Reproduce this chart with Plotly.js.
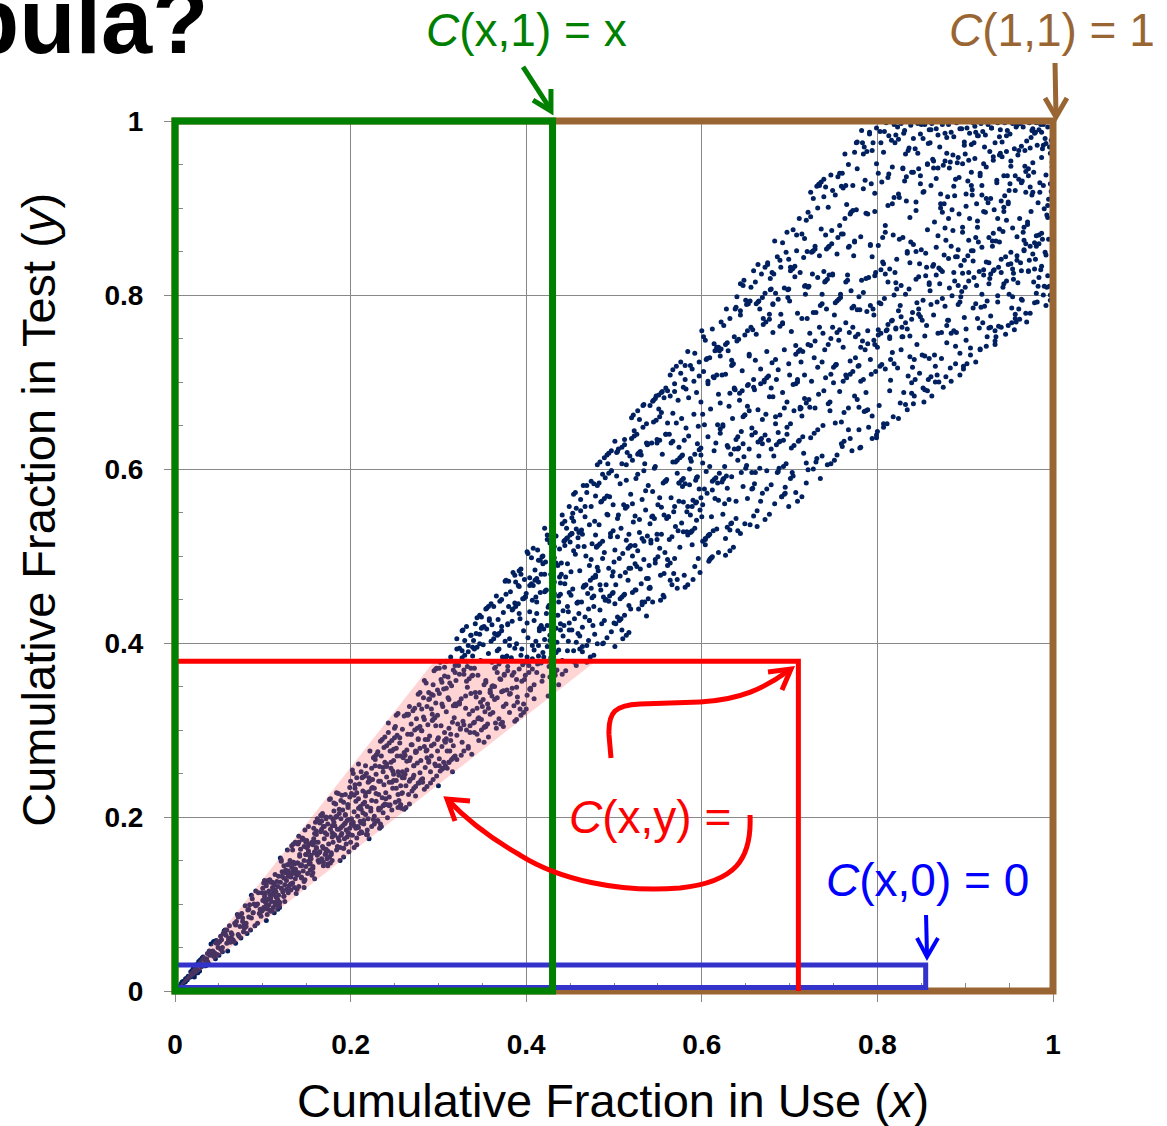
<!DOCTYPE html>
<html>
<head>
<meta charset="utf-8">
<script src="https://cdn.plot.ly/plotly-3.0.1.min.js"></script>
<style>html,body{margin:0;padding:0;background:#fff;}#chart{width:1167px;height:1126px;}</style>
</head>
<body>
<div id="chart"></div>
<script>
// ---- Data: sample of (use, test) cumulative fractions ----
const useFraction = [
.001,.001,.001,.002,.003,.004,.004,.005,.006,.007,.007,.008,.009,.009,.010,.011,.012,.012,.013,.014,.014,.015,.016,.017,.017,.018,.019,.019,
.020,.021,.021,.022,.023,.024,.024,.025,.026,.027,.027,.028,.029,.029,.030,.031,.032,.032,.033,.034,.034,.035,.036,.037,.037,.038,.039,.039,
.040,.041,.041,.042,.043,.044,.044,.045,.046,.047,.047,.048,.049,.049,.050,.051,.052,.052,.053,.054,.054,.055,.056,.057,.057,.058,.059,.059,
.060,.061,.061,.062,.063,.064,.064,.065,.066,.067,.067,.068,.069,.069,.070,.071,.072,.072,.073,.074,.074,.075,.076,.077,.077,.078,.079,.079,
.080,.081,.081,.082,.083,.084,.084,.085,.086,.087,.087,.088,.089,.089,.090,.091,.092,.092,.093,.094,.094,.095,.096,.097,.097,.098,.099,.099,
.100,.101,.101,.102,.103,.104,.104,.105,.106,.107,.107,.108,.109,.109,.110,.111,.112,.112,.113,.114,.114,.115,.116,.117,.117,.118,.119,.119,
.120,.121,.121,.122,.123,.124,.124,.125,.126,.127,.127,.128,.129,.129,.130,.131,.132,.132,.133,.134,.134,.135,.136,.137,.137,.138,.139,.139,
.140,.141,.141,.142,.143,.144,.144,.145,.146,.147,.147,.148,.149,.149,.150,.151,.152,.152,.153,.154,.154,.155,.156,.157,.157,.158,.159,.159,
.160,.161,.161,.162,.163,.164,.164,.165,.166,.167,.167,.168,.169,.169,.170,.171,.172,.172,.173,.174,.174,.175,.176,.177,.177,.178,.179,.179,
.180,.181,.181,.182,.183,.184,.184,.185,.186,.187,.187,.188,.189,.189,.190,.191,.192,.192,.193,.194,.194,.195,.196,.197,.197,.198,.199,.199,
.200,.201,.201,.202,.203,.204,.204,.205,.206,.207,.207,.208,.209,.209,.210,.211,.212,.212,.213,.214,.214,.215,.216,.217,.217,.218,.219,.219,
.220,.221,.221,.222,.223,.224,.224,.225,.226,.227,.227,.228,.229,.229,.230,.231,.232,.232,.233,.234,.234,.235,.236,.237,.237,.238,.239,.239,
.240,.241,.241,.242,.243,.244,.244,.245,.246,.247,.247,.248,.249,.249,.250,.251,.252,.252,.253,.254,.254,.255,.256,.257,.257,.258,.259,.259,
.260,.261,.261,.262,.263,.264,.264,.265,.266,.267,.267,.268,.269,.269,.270,.271,.272,.272,.273,.274,.274,.275,.276,.277,.277,.278,.279,.279,
.280,.281,.281,.282,.283,.284,.284,.285,.286,.287,.287,.288,.289,.289,.290,.291,.292,.292,.293,.294,.294,.295,.296,.297,.297,.298,.299,.299,
.300,.301,.301,.302,.303,.304,.304,.305,.306,.307,.307,.308,.309,.309,.310,.311,.312,.312,.313,.314,.314,.315,.316,.317,.317,.318,.319,.319,
.320,.321,.321,.322,.323,.324,.324,.325,.326,.327,.327,.328,.329,.329,.330,.331,.332,.332,.333,.334,.334,.335,.336,.337,.337,.338,.339,.339,
.340,.341,.341,.342,.343,.344,.344,.345,.346,.347,.347,.348,.349,.349,.350,.351,.352,.352,.353,.354,.354,.355,.356,.357,.357,.358,.359,.359,
.360,.361,.361,.362,.363,.364,.364,.365,.366,.367,.367,.368,.369,.369,.370,.371,.372,.372,.373,.374,.374,.375,.376,.377,.377,.378,.379,.379,
.380,.381,.381,.382,.383,.384,.384,.385,.386,.387,.387,.388,.389,.389,.390,.391,.392,.392,.393,.394,.394,.395,.396,.397,.397,.398,.399,.399,
.400,.401,.401,.402,.403,.404,.404,.405,.406,.407,.407,.408,.409,.409,.410,.411,.412,.412,.413,.414,.414,.415,.416,.417,.417,.418,.419,.419,
.420,.421,.421,.422,.423,.424,.424,.425,.426,.427,.427,.428,.429,.429,.430,.431,.432,.432,.433,.434,.434,.435,.436,.437,.437,.438,.439,.439,
.440,.441,.441,.442,.443,.444,.444,.445,.446,.447,.447,.448,.449,.449,.450,.451,.452,.452,.453,.454,.454,.455,.456,.457,.457,.458,.459,.459,
.460,.461,.461,.462,.463,.464,.464,.465,.466,.467,.467,.468,.469,.469,.470,.471,.472,.472,.473,.474,.474,.475,.476,.477,.477,.478,.479,.479,
.480,.481,.481,.482,.483,.484,.484,.485,.486,.487,.487,.488,.489,.489,.490,.491,.492,.492,.493,.494,.494,.495,.496,.497,.497,.498,.499,.499,
.500,.501,.501,.502,.503,.504,.504,.505,.506,.507,.507,.508,.509,.509,.510,.511,.512,.512,.513,.514,.514,.515,.516,.517,.517,.518,.519,.519,
.520,.521,.521,.522,.523,.524,.524,.525,.526,.527,.527,.528,.529,.529,.530,.531,.532,.532,.533,.534,.534,.535,.536,.537,.537,.538,.539,.539,
.540,.541,.541,.542,.543,.544,.544,.545,.546,.547,.547,.548,.549,.549,.550,.551,.552,.552,.553,.554,.554,.555,.556,.557,.557,.558,.559,.559,
.560,.561,.561,.562,.563,.564,.564,.565,.566,.567,.567,.568,.569,.569,.570,.571,.572,.572,.573,.574,.574,.575,.576,.577,.577,.578,.579,.579,
.580,.581,.581,.582,.583,.584,.584,.585,.586,.587,.587,.588,.589,.589,.590,.591,.592,.592,.593,.594,.594,.595,.596,.597,.597,.598,.599,.599,
.600,.601,.601,.602,.603,.604,.604,.605,.606,.607,.607,.608,.609,.609,.610,.611,.612,.612,.613,.614,.614,.615,.616,.617,.617,.618,.619,.619,
.620,.621,.621,.622,.623,.624,.624,.625,.626,.627,.627,.628,.629,.629,.630,.631,.632,.632,.633,.634,.634,.635,.636,.637,.637,.638,.639,.639,
.640,.641,.641,.642,.643,.644,.644,.645,.646,.647,.647,.648,.649,.649,.650,.651,.652,.652,.653,.654,.654,.655,.656,.657,.657,.658,.659,.659,
.660,.661,.661,.662,.663,.664,.664,.665,.666,.667,.667,.668,.669,.669,.670,.671,.672,.672,.673,.674,.674,.675,.676,.677,.677,.678,.679,.679,
.680,.681,.681,.682,.683,.684,.684,.685,.686,.687,.687,.688,.689,.689,.690,.691,.692,.692,.693,.694,.694,.695,.696,.697,.697,.698,.699,.699,
.700,.701,.701,.702,.703,.704,.704,.705,.706,.707,.707,.708,.709,.709,.710,.711,.712,.712,.713,.714,.714,.715,.716,.717,.717,.718,.719,.719,
.720,.721,.721,.722,.723,.724,.724,.725,.726,.727,.727,.728,.729,.729,.730,.731,.732,.732,.733,.734,.734,.735,.736,.737,.737,.738,.739,.739,
.740,.741,.741,.742,.743,.744,.744,.745,.746,.747,.747,.748,.749,.749,.750,.751,.752,.752,.753,.754,.754,.755,.756,.757,.757,.758,.759,.759,
.760,.761,.761,.762,.763,.764,.764,.765,.766,.767,.767,.768,.769,.769,.770,.771,.772,.772,.773,.774,.774,.775,.776,.777,.777,.778,.779,.779,
.780,.781,.781,.782,.783,.784,.784,.785,.786,.787,.787,.788,.789,.789,.790,.791,.792,.792,.793,.794,.794,.795,.796,.797,.797,.798,.799,.799,
.800,.801,.801,.802,.803,.804,.804,.805,.806,.807,.807,.808,.809,.809,.810,.811,.812,.812,.813,.814,.814,.815,.816,.817,.817,.818,.819,.819,
.820,.821,.821,.822,.823,.824,.824,.825,.826,.827,.827,.828,.829,.829,.830,.831,.832,.832,.833,.834,.834,.835,.836,.837,.837,.838,.839,.839,
.840,.841,.841,.842,.843,.844,.844,.845,.846,.847,.847,.848,.849,.849,.850,.851,.852,.852,.853,.854,.854,.855,.856,.857,.857,.858,.859,.859,
.860,.861,.861,.862,.863,.864,.864,.865,.866,.867,.867,.868,.869,.869,.870,.871,.872,.872,.873,.874,.874,.875,.876,.877,.877,.878,.879,.879,
.880,.881,.881,.882,.883,.884,.884,.885,.886,.887,.887,.888,.889,.889,.890,.891,.892,.892,.893,.894,.894,.895,.896,.897,.897,.898,.899,.899,
.900,.901,.901,.902,.903,.904,.904,.905,.906,.907,.907,.908,.909,.909,.910,.911,.912,.912,.913,.914,.914,.915,.916,.917,.917,.918,.919,.919,
.920,.921,.921,.922,.923,.924,.924,.925,.926,.927,.927,.928,.929,.929,.930,.931,.932,.932,.933,.934,.934,.935,.936,.937,.937,.938,.939,.939,
.940,.941,.941,.942,.943,.944,.944,.945,.946,.947,.947,.948,.949,.949,.950,.951,.952,.952,.953,.954,.954,.955,.956,.957,.957,.958,.959,.959,
.960,.961,.961,.962,.963,.964,.964,.965,.966,.967,.967,.968,.969,.969,.970,.971,.972,.972,.973,.974,.974,.975,.976,.977,.977,.978,.979,.979,
.980,.981,.981,.982,.983,.984,.984,.985,.986,.987,.987,.988,.989,.989,.990,.991,.992,.992,.993,.994,.994,.995,.996,.997,.997,.998,.999,.999,
.119,.100,.101,.101,.102,.103,.104,.104,.105,.106,.107,.107,.108,.109,.109,.110,.111,.112,.112,.113,.114,.114,.115,.116,.117,.117,.118,.119,
.127,.128,.129,.129,.130,.131,.132,.132,.133,.134,.134,.135,.136,.137,.137,.138,.139,.139,.120,.121,.121,.122,.123,.124,.124,.125,.126,.127,
.155,.156,.157,.157,.158,.159,.159,.140,.141,.141,.142,.143,.144,.144,.145,.146,.147,.147,.148,.149,.149,.150,.151,.152,.152,.153,.154,.154,
.163,.164,.164,.165,.166,.167,.167,.168,.169,.169,.170,.171,.172,.172,.173,.174,.174,.175,.176,.177,.177,.178,.179,.179,.160,.161,.161,.162,
.191,.192,.192,.193,.194,.194,.195,.196,.197,.197,.198,.199,.199,.180,.181,.181,.182,.183,.184,.184,.185,.186,.187,.187,.188,.189,.189,.190,
.219,.219,.200,.201,.201,.202,.203,.204,.204,.205,.206,.207,.207,.208,.209,.209,.210,.211,.212,.212,.213,.214,.214,.215,.216,.217,.217,.218,
.227,.227,.228,.229,.229,.230,.231,.232,.232,.233,.234,.234,.235,.236,.237,.237,.238,.239,.239,.220,.221,.221,.222,.223,.224,.224,.225,.226,
.254,.255,.256,.257,.257,.258,.259,.259,.240,.241,.241,.242,.243,.244,.244,.245,.246,.247,.247,.248,.249,.249,.250,.251,.252,.252,.253,.254,
.262,.263,.264,.264,.265,.266,.267,.267,.268,.269,.269,.270,.271,.272,.272,.273,.274,.274,.275,.276,.277,.277,.278,.279,.279,.260,.261,.261,
.290,.291,.292,.292,.293,.294,.294,.295,.296,.297,.297,.298,.299,.299,.280,.281,.281,.282,.283,.284,.284,.285,.286,.287,.287,.288,.289,.289,
.318,.319,.319,.300,.301,.301,.302,.303,.304,.304,.305,.306,.307,.307,.308,.309,.309,.310,.311,.312,.312,.313,.314,.314,.315,.316,.317,.317,
.326,.327,.327,.328,.329,.329,.330,.331,.332,.332,.333,.334,.334,.335,.336,.337,.337,.338,.339,.339,.320,.321,.321,.322,.323,.324,.324,.325,
.354,.354,.355,.356,.357,.357,.358,.359,.359,.340,.341,.341,.342,.343,.344,.344,.345,.346,.347,.347,.348,.349,.349,.350,.351,.352,.352,.353,
.361,.362,.363,.364,.364,.365,.366,.367,.367,.368,.369,.369,.370,.371,.372,.372,.373,.374,.374,.375,.376,.377,.377,.378,.379,.379,.360,.361,
.389,.390,.391,.392,.392,.393,.394,.394,.395,.396,.397,.397,.398,.399,.399,.380,.381,.381,.382,.383,.384,.384,.385,.386,.387,.387,.388,.389,
.417,.418,.419,.419,.400,.401,.401,.402,.403,.404,.404,.405,.406,.407,.407,.408,.409,.409,.410,.411,.412,.412,.413,.414,.414,.415,.416,.417,
.425,.426,.427,.427,.428,.429,.429,.430,.431,.432,.432,.433,.434,.434,.435,.436,.437,.437,.438,.439,.439,.420,.421,.421,.422,.423,.424,.424,
.453,.454,.454,.455,.456,.457,.457,.458,.459,.459,.440,.441,.441,.442,.443,.444,.444,.445,.446,.447,.447,.448,.449,.449,.450,.451,.452,.452,
.461,.461,.462,.463,.464,.464,.465,.466,.467,.467,.468,.469,.469,.470,.471,.472,.472,.473,.474,.474,.475,.476,.477,.477,.478,.479,.479,.460,
.489,.489,.490,.491,.492,.492,.493,.494,.494,.495,.496,.497,.497,.498,.499,.499,.480,.481,.481,.482,.483,.484,.484,.485,.486,.487,.487,.488,
.517,.517,.518,.519,.519,.500,.501,.501,.502,.503,.504,.504,.505,.506,.507,.507,.508,.509,.509,.510,.511,.512,.512,.513,.514,.514,.515,.516,
.524,.525,.526,.527,.527,.528,.529,.529,.530,.531,.532,.532,.533,.534,.534,.535,.536,.537,.537,.538,.539,.539,.520,.521,.521,.522,.523,.524,
.552,.553,.554,.554,.555,.556,.557,.557,.558,.559,.559,.540,.541,.541,.542,.543,.544,.544,.545,.546,.547,.547,.548,.549,.549,.550,.551,.552,
.560,.561,.561,.562,.563,.564,.564,.565,.566,.567,.567,.568,.569,.569,.570,.571,.572,.572,.573,.574,.574,.575,.576,.577,.577,.578,.579,.579,
.588,.589,.589,.590,.591,.592,.592,.593,.594,.594,.595,.596,.597,.597,.598,.599,.599,.580,.581,.581,.582,.583,.584,.584,.585,.586,.587,.587,
.616,.617,.617,.618,.619,.619,.600,.601,.601,.602,.603,.604,.604,.605,.606,.607,.607,.608,.609,.609,.610,.611,.612,.612,.613,.614,.614,.615,
.624,.624,.625,.626,.627,.627,.628,.629,.629,.630,.631,.632,.632,.633,.634,.634,.635,.636,.637,.637,.638,.639,.639,.620,.621,.621,.622,.623,
.652,.652,.653,.654,.654,.655,.656,.657,.657,.658,.659,.659,.640,.641,.641,.642,.643,.644,.644,.645,.646,.647,.647,.648,.649,.649,.650,.651,
.679,.660,.661,.661,.662,.663,.664,.664,.665,.666,.667,.667,.668,.669,.669,.670,.671,.672,.672,.673,.674,.674,.675,.676,.677,.677,.678,.679,
.687,.688,.689,.689,.690,.691,.692,.692,.693,.694,.694,.695,.696,.697,.697,.698,.699,.699,.680,.681,.681,.682,.683,.684,.684,.685,.686,.687,
.715,.716,.717,.717,.718,.719,.719,.700,.701,.701,.702,.703,.704,.704,.705,.706,.707,.707,.708,.709,.709,.710,.711,.712,.712,.713,.714,.714,
.723,.724,.724,.725,.726,.727,.727,.728,.729,.729,.730,.731,.732,.732,.733,.734,.734,.735,.736,.737,.737,.738,.739,.739,.720,.721,.721,.722,
.751,.752,.752,.753,.754,.754,.755,.756,.757,.757,.758,.759,.759,.740,.741,.741,.742,.743,.744,.744,.745,.746,.747,.747,.748,.749,.749,.750,
.779,.779,.760,.761,.761,.762,.763,.764,.764,.765,.766,.767,.767,.768,.769,.769,.770,.771,.772,.772,.773,.774,.774,.775,.776,.777,.777,.778,
.787,.787,.788,.789,.789,.790,.791,.792,.792,.793,.794,.794,.795,.796,.797,.797,.798,.799,.799,.780,.781,.781,.782,.783,.784,.784,.785,.786,
.814,.815,.816,.817,.817,.818,.819,.819,.800,.801,.801,.802,.803,.804,.804,.805,.806,.807,.807,.808,.809,.809,.810,.811,.812,.812,.813,.814,
.822,.823,.824,.824,.825,.826,.827,.827,.828,.829,.829,.830,.831,.832,.832,.833,.834,.834,.835,.836,.837,.837,.838,.839,.839,.820,.821,.821,
.850,.851,.852,.852,.853,.854,.854,.855,.856,.857,.857,.858,.859,.859,.840,.841,.841,.842,.843,.844,.844,.845,.846,.847,.847,.848,.849,.849,
.878,.879,.879,.860,.861,.861,.862,.863,.864,.864,.865,.866,.867,.867,.868,.869,.869,.870,.871,.872,.872,.873,.874,.874,.875,.876,.877,.877,
.886,.887,.887,.888,.889,.889,.890,.891,.892,.892,.893,.894,.894,.895,.896,.897,.897,.898,.899,.899,.880,.881,.881,.882,.883,.884,.884,.885,
.914,.914,.915,.916,.917,.917,.918,.919,.919,.900,.901,.901,.902,.903,.904,.904,.905,.906,.907,.907,.908,.909,.909,.910,.911,.912,.912,.913,
.921,.922,.923,.924,.924,.925,.926,.927,.927,.928,.929,.929,.930,.931,.932,.932,.933,.934,.934,.935,.936,.937,.937,.938,.939,.939,.920,.921,
.949,.950,.951,.952,.952,.953,.954,.954,.955,.956,.957,.957,.958,.959,.959,.940,.941,.941,.942,.943,.944,.944,.945,.946,.947,.947,.948,.949,
.977,.978,.979,.979,.960,.961,.961,.962,.963,.964,.964,.965,.966,.967,.967,.968,.969,.969,.970,.971,.972,.972,.973,.974,.974,.975,.976,.977,
.985,.986,.987,.987,.988,.989,.989,.990,.991,.992,.992,.993,.994,.994,.995,.996,.997,.997,.998,.999,.999,.980,.981,.981,.982,.983,.984,.984
];
const testFraction = [
.001,.001,.001,.002,.004,.004,.004,.005,.006,.007,.008,.010,.010,.011,.010,.010,.011,.014,.013,.015,.013,.017,.016,.016,.016,.022,.018,.017,
.024,.028,.022,.016,.020,.030,.030,.025,.021,.034,.031,.023,.032,.036,.028,.038,.039,.030,.037,.035,.029,.029,.037,.043,.034,.032,.046,.043,
.041,.054,.042,.043,.046,.057,.040,.044,.037,.055,.058,.042,.055,.050,.041,.057,.048,.063,.059,.050,.045,.066,.069,.070,.068,.064,.055,.070,
.046,.058,.061,.075,.056,.067,.061,.065,.059,.057,.057,.078,.055,.076,.080,.088,.085,.065,.063,.074,.087,.061,.089,.084,.080,.068,.076,.072,
.098,.074,.078,.066,.093,.094,.085,.099,.070,.110,.084,.106,.090,.090,.100,.075,.115,.098,.099,.078,.100,.113,.089,.090,.094,.086,.113,.092,
.104,.094,.105,.127,.102,.081,.124,.088,.094,.127,.106,.128,.092,.092,.093,.125,.111,.116,.090,.102,.134,.114,.099,.094,.105,.132,.096,.102,
.153,.118,.149,.132,.114,.109,.109,.103,.136,.137,.137,.162,.145,.132,.133,.147,.123,.123,.167,.137,.162,.169,.146,.140,.171,.135,.117,.136,
.169,.120,.178,.157,.144,.145,.130,.174,.175,.126,.119,.185,.171,.157,.165,.166,.160,.189,.146,.147,.155,.156,.171,.136,.143,.187,.160,.181,
.171,.180,.164,.198,.150,.159,.159,.193,.202,.186,.195,.204,.164,.148,.189,.182,.159,.200,.152,.161,.144,.154,.220,.147,.221,.157,.182,.190,
.197,.180,.216,.190,.200,.201,.228,.166,.176,.186,.204,.150,.179,.188,.225,.208,.164,.154,.192,.202,.193,.185,.177,.214,.214,.197,.234,.180,
.171,.192,.192,.254,.194,.225,.165,.237,.187,.228,.168,.189,.210,.261,.181,.212,.183,.193,.245,.205,.246,.196,.217,.228,.259,.250,.180,.180,
.240,.241,.175,.242,.210,.189,.233,.234,.268,.269,.192,.259,.227,.271,.272,.196,.241,.208,.187,.287,.210,.189,.289,.257,.213,.280,.215,.292,
.221,.258,.246,.199,.308,.213,.285,.214,.263,.240,.276,.253,.242,.278,.291,.304,.317,.233,.270,.319,.211,.248,.285,.214,.214,.227,.228,.252,
.247,.209,.274,.249,.211,.277,.264,.317,.318,.241,.215,.268,.295,.295,.283,.245,.233,.259,.325,.274,.235,.275,.302,.341,.290,.239,.343,.279,
.242,.299,.243,.244,.315,.232,.357,.289,.276,.277,.235,.306,.335,.265,.336,.239,.282,.324,.311,.340,.312,.368,.314,.370,.259,.371,.317,.289,
.236,.371,.267,.253,.358,.330,.255,.256,.347,.288,.362,.259,.379,.290,.276,.337,.263,.263,.354,.384,.295,.266,.252,.328,.268,.269,.374,.330,
.328,.393,.266,.378,.331,.332,.364,.302,.271,.383,.414,.415,.369,.306,.386,.339,.419,.356,.373,.390,.279,.359,.297,.409,.409,.362,.395,.363,
.308,.393,.309,.343,.411,.429,.295,.313,.314,.399,.432,.332,.417,.300,.418,.335,.286,.303,.304,.439,.355,.440,.307,.325,.442,.426,.343,.343,
.402,.421,.350,.351,.405,.335,.371,.372,.302,.409,.391,.410,.411,.376,.359,.307,.450,.414,.309,.345,.327,.364,.471,.384,.472,.385,.421,.368,
.471,.397,.341,.342,.381,.438,.363,.439,.328,.478,.310,.442,.312,.349,.332,.445,.483,.465,.428,.317,.485,.393,.375,.451,.320,.358,.453,.453,
.324,.423,.384,.503,.366,.347,.466,.348,.468,.449,.370,.509,.392,.352,.472,.453,.474,.434,.376,.397,.495,.417,.458,.479,.419,.499,.362,.500,
.416,.459,.479,.460,.461,.524,.420,.339,.443,.361,.403,.383,.343,.343,.344,.448,.470,.511,.367,.389,.492,.369,.432,.454,.392,.476,.415,.456,
.492,.364,.537,.408,.517,.518,.540,.476,.520,.521,.391,.436,.458,.415,.524,.482,.526,.526,.549,.571,.506,.378,.573,.401,.531,.446,.511,.447,
.527,.393,.528,.552,.530,.418,.396,.464,.511,.557,.466,.467,.378,.581,.379,.403,.426,.426,.472,.586,.496,.452,.475,.454,.386,.410,.478,.524,
.510,.487,.605,.512,.584,.514,.467,.562,.422,.399,.517,.400,.566,.613,.449,.450,.569,.616,.547,.595,.618,.454,.526,.598,.621,.457,.482,.529,
.493,.445,.396,.422,.619,.620,.522,.547,.426,.427,.451,.428,.453,.625,.405,.455,.432,.628,.555,.409,.605,.557,.509,.412,.486,.511,.512,.439,
.635,.458,.560,.662,.638,.461,.512,.589,.488,.667,.617,.618,.542,.619,.620,.468,.520,.444,.673,.674,.598,.447,.575,.474,.652,.628,.451,.629,
.489,.464,.463,.518,.545,.678,.546,.679,.601,.681,.496,.656,.525,.630,.499,.685,.633,.660,.449,.556,.688,.689,.584,.480,.453,.586,.693,.640,
.543,.489,.653,.545,.519,.684,.492,.630,.467,.714,.632,.551,.497,.689,.608,.718,.610,.473,.529,.584,.584,.613,.723,.587,.615,.616,.562,.589,
.633,.719,.464,.692,.551,.467,.524,.638,.582,.527,.612,.528,.529,.557,.473,.701,.532,.617,.561,.562,.590,.591,.649,.707,.622,.481,.567,.624,
.545,.663,.517,.752,.577,.520,.519,.726,.727,.523,.698,.524,.496,.525,.497,.498,.499,.586,.529,.588,.705,.736,.590,.738,.708,.651,.564,.740,
.736,.676,.646,.738,.708,.649,.588,.589,.560,.501,.743,.592,.745,.533,.625,.565,.506,.687,.537,.719,.538,.720,.721,.692,.693,.784,.543,.634,
.747,.623,.529,.624,.687,.813,.782,.596,.690,.629,.660,.817,.537,.662,.601,.789,.759,.696,.697,.667,.730,.793,.763,.639,.577,.578,.703,.828,
.691,.725,.596,.790,.534,.631,.792,.793,.601,.634,.698,.635,.572,.797,.766,.702,.832,.639,.769,.705,.577,.835,.707,.548,.772,.806,.582,.807,
.722,.789,.790,.824,.560,.726,.660,.628,.596,.795,.597,.631,.632,.764,.832,.568,.767,.768,.603,.670,.571,.572,.606,.872,.640,.806,.841,.807,
.793,.589,.828,.624,.830,.592,.831,.627,.833,.698,.732,.869,.563,.700,.735,.633,.669,.737,.670,.773,.568,.637,.843,.810,.708,.811,.607,.676,
.773,.599,.809,.810,.671,.742,.918,.849,.850,.780,.851,.641,.747,.853,.608,.925,.645,.820,.927,.928,.926,.788,.930,.790,.615,.756,.933,.827,
.815,.924,.816,.853,.818,.675,.855,.856,.677,.750,.606,.859,.824,.823,.717,.610,.719,.791,.720,.793,.757,.866,.795,.940,.760,.797,.870,.654,
.626,.923,.701,.665,.888,.926,.815,.705,.817,.670,.855,.856,.635,.709,.895,.785,.712,.897,.787,.862,.861,.752,.975,.680,.976,.755,.719,.645,
.624,.740,.625,.817,.975,.962,.703,.666,.932,.667,.894,.781,.668,.744,.820,.985,.858,.857,.709,.966,.635,.784,.748,.822,.896,.712,.992,.639,
.643,.754,.760,.791,.718,.975,.829,.720,.866,.648,.836,.988,.824,.872,.759,.652,.903,.766,.939,.690,.752,.726,.770,.734,.947,.869,.721,.912,
.975,.814,.761,.807,.993,.658,.916,.864,.788,.737,.775,.763,.945,.752,.986,.931,.962,.674,.908,.850,.761,.707,.969,.837,.753,.861,.699,.687,
.717,.980,.675,.726,.703,.850,.907,.791,.963,.778,.821,.710,.937,.928,.996,.771,.693,.918,.677,.753,.730,.848,.832,.690,.951,.974,.727,.814,
.975,.990,.789,.684,.956,.946,.835,.731,.700,.934,.855,.708,.984,.756,.831,.813,.916,.900,.727,.827,.895,.694,.905,.877,.954,.706,.963,.765,
.771,.888,.842,.946,.716,.701,.756,.898,.961,.826,.925,.914,.844,.741,.757,.952,.852,.811,.935,.708,.792,.798,.991,.872,.825,.718,.774,.976,
.809,.916,.761,.721,.931,.863,.826,.986,.739,.926,.941,.915,.839,.851,.975,.994,.790,.723,.905,.983,.878,.861,.762,.937,.738,.786,.926,.915,
.768,.951,.829,.970,.895,.741,.911,.793,.906,.762,.837,.819,.776,.824,.992,.862,.871,.955,.829,.743,.759,.752,.932,.888,.792,.764,.982,.861,
.990,.826,.841,.959,.809,.901,.896,.914,.755,.816,.983,.937,.905,.765,.920,.928,.836,.948,.785,.798,.830,.818,.760,.773,.937,.769,.995,.845,
.814,.966,.933,.772,.997,.795,.828,.931,.872,.863,.851,.948,.859,.942,.769,.881,.937,.828,.840,.779,.924,.981,.915,.991,.952,.941,.830,.791,
.987,.856,.802,.792,.810,.869,.820,.918,.996,.833,.958,.864,.926,.972,.810,.980,.788,.846,.892,.903,.822,.910,.810,.800,.963,.919,.914,.947,
.101,.118,.096,.124,.109,.113,.098,.121,.105,.127,.115,.099,.111,.107,.125,.103,.119,.096,.112,.122,.100,.116,.108,.126,.104,.120,.110,.097,
.127,.145,.113,.138,.121,.150,.131,.116,.142,.124,.135,.148,.119,.129,.140,.112,.133,.147,.125,.118,.151,.137,.114,.144,.130,.122,.139,.117,
.152,.133,.168,.141,.175,.129,.159,.147,.136,.171,.155,.163,.131,.144,.176,.138,.150,.166,.128,.157,.143,.173,.135,.161,.149,.169,.139,.154,
.171,.148,.195,.160,.183,.152,.201,.166,.144,.189,.175,.157,.198,.163,.180,.146,.192,.169,.154,.186,.200,.159,.177,.150,.194,.165,.184,.156,
.190,.164,.217,.175,.203,.226,.169,.196,.182,.211,.160,.223,.187,.171,.207,.194,.179,.215,.162,.200,.186,.227,.173,.209,.165,.198,.219,.181,
.212,.185,.241,.198,.227,.179,.250,.206,.190,.233,.218,.176,.245,.201,.221,.188,.238,.195,.252,.209,.182,.230,.215,.192,.247,.203,.224,.180,
.233,.201,.266,.218,.249,.195,.275,.226,.210,.258,.241,.192,.270,.222,.205,.252,.237,.214,.263,.198,.245,.229,.276,.207,.256,.219,.243,.197,
.252,.219,.291,.236,.270,.210,.301,.245,.228,.282,.261,.214,.297,.240,.223,.276,.256,.208,.288,.233,.265,.249,.302,.217,.279,.242,.294,.226,
.271,.236,.318,.254,.295,.226,.327,.265,.243,.307,.283,.230,.322,.259,.248,.300,.276,.224,.313,.262,.289,.239,.329,.251,.304,.268,.316,.245,
.293,.252,.341,.270,.318,.243,.352,.284,.261,.331,.305,.247,.346,.276,.265,.324,.299,.240,.337,.281,.312,.257,.354,.268,.327,.289,.343,.263,
.314,.270,.366,.291,.342,.259,.378,.305,.281,.355,.327,.263,.372,.297,.286,.348,.321,.256,.361,.302,.335,.276,.380,.288,.351,.309,.369,.282,
.336,.286,.391,.310,.364,.276,.403,.325,.300,.379,.349,.281,.397,.318,.305,.371,.342,.272,.385,.322,.357,.294,.405,.307,.374,.330,.394,.301,
.357,.304,.416,.330,.388,.292,.428,.346,.318,.403,.371,.297,.422,.338,.325,.395,.363,.288,.410,.343,.380,.312,.430,.327,.398,.352,.419,.321,
.378,.320,.442,.350,.411,.308,.454,.366,.337,.427,.393,.313,.448,.358,.344,.419,.384,.304,.435,.363,.402,.330,.456,.346,.422,.373,.445,.339,
.399,.338,.466,.370,.434,.324,.479,.386,.356,.451,.414,.330,.473,.378,.363,.442,.405,.320,.459,.383,.425,.348,.481,.366,.446,.394,.470,.358,
.420,.356,.491,.389,.457,.340,.505,.406,.374,.475,.436,.346,.498,.397,.382,.466,.426,.336,.484,.402,.447,.366,.507,.385,.470,.414,.495,.377,
.441,.373,.515,.409,.479,.357,.530,.426,.393,.498,.457,.363,.523,.417,.401,.489,.447,.352,.508,.422,.469,.384,.532,.404,.493,.434,.519,.396,
.462,.391,.540,.428,.502,.374,.555,.446,.411,.521,.479,.380,.547,.437,.420,.512,.468,.368,.532,.442,.491,.402,.557,.423,.516,.455,.544,.415,
.483,.408,.565,.447,.525,.390,.581,.466,.430,.545,.500,.397,.573,.457,.439,.536,.489,.384,.557,.463,.514,.420,.583,.442,.540,.476,.569,.434,
.504,.426,.590,.467,.548,.406,.606,.486,.448,.568,.522,.413,.598,.477,.458,.559,.511,.399,.581,.483,.536,.438,.608,.461,.563,.497,.594,.453,
.525,.443,.615,.486,.571,.423,.632,.507,.467,.592,.543,.430,.623,.497,.477,.583,.532,.415,.606,.503,.559,.456,.634,.481,.587,.518,.619,.472,
.546,.461,.640,.506,.594,.439,.657,.527,.485,.616,.565,.447,.648,.517,.496,.606,.553,.431,.630,.523,.581,.474,.659,.500,.610,.539,.644,.491,
.567,.478,.665,.525,.617,.455,.682,.547,.504,.640,.586,.463,.673,.537,.515,.630,.574,.447,.654,.543,.603,.492,.684,.519,.634,.559,.669,.509,
.588,.496,.690,.545,.640,.472,.708,.567,.522,.664,.608,.480,.698,.557,.534,.653,.595,.463,.679,.563,.625,.510,.710,.538,.658,.580,.694,.528,
.609,.513,.715,.564,.663,.488,.733,.587,.541,.688,.629,.497,.723,.577,.553,.677,.616,.478,.703,.583,.647,.528,.735,.557,.682,.600,.719,.547,
.630,.531,.740,.584,.686,.504,.759,.607,.559,.712,.651,.513,.748,.597,.572,.701,.637,.494,.728,.603,.669,.545,.761,.576,.706,.621,.744,.566,
.651,.548,.765,.603,.709,.520,.784,.627,.578,.736,.672,.530,.773,.617,.591,.725,.658,.510,.752,.623,.691,.563,.786,.595,.730,.641,.769,.585,
.672,.566,.790,.623,.732,.536,.809,.647,.596,.760,.694,.546,.798,.637,.610,.749,.679,.526,.777,.643,.713,.580,.811,.614,.754,.662,.794,.604,
.693,.583,.815,.642,.755,.552,.835,.668,.615,.784,.715,.563,.824,.657,.629,.773,.700,.542,.802,.663,.735,.598,.837,.633,.778,.683,.819,.623,
.714,.601,.840,.662,.778,.568,.860,.688,.633,.808,.737,.579,.849,.677,.648,.797,.721,.557,.826,.683,.757,.615,.862,.652,.802,.703,.844,.642,
.735,.618,.865,.681,.801,.584,.886,.708,.652,.832,.758,.596,.875,.697,.667,.821,.742,.573,.851,.703,.779,.632,.888,.671,.826,.723,.870,.661,
.756,.636,.890,.701,.824,.600,.911,.728,.670,.856,.780,.612,.900,.717,.686,.845,.763,.589,.876,.723,.801,.650,.913,.690,.850,.743,.895,.680,
.777,.653,.915,.720,.847,.616,.936,.748,.689,.880,.801,.629,.925,.737,.705,.869,.784,.605,.901,.743,.823,.667,.938,.709,.874,.763,.920,.699,
.798,.671,.940,.740,.870,.632,.962,.768,.708,.904,.823,.645,.950,.757,.724,.893,.805,.621,.926,.763,.845,.684,.964,.728,.898,.783,.945,.718,
.819,.688,.965,.759,.893,.648,.987,.788,.726,.928,.844,.661,.975,.777,.743,.917,.826,.636,.951,.783,.867,.701,.989,.747,.922,.803,.970,.737,
.830,.702,.978,.771,.905,.660,.996,.800,.740,.940,.857,.673,.988,.790,.756,.930,.838,.652,.964,.796,.880,.715,.998,.760,.935,.815,.983,.750,
.841,.716,.979,.782,.912,.676,.997,.811,.752,.946,.866,.688,.989,.801,.768,.936,.848,.668,.966,.807,.889,.729,.995,.772,.941,.826,.984,.762,
.852,.731,.980,.794,.919,.691,.996,.822,.765,.950,.875,.703,.990,.812,.780,.941,.858,.684,.968,.818,.897,.743,.997,.784,.945,.836,.985,.775,
.863,.745,.981,.805,.926,.706,.997,.833,.777,.954,.884,.718,.991,.823,.792,.946,.868,.700,.970,.829,.905,.757,.996,.796,.949,.846,.986,.787,
.874,.759,.982,.816,.933,.721,.998,.844,.789,.958,.893,.733,.991,.834,.804,.951,.878,.715,.972,.840,.913,.771,.996,.808,.953,.856,.987,.799,
.885,.773,.983,.827,.940,.737,.997,.855,.801,.962,.902,.748,.992,.845,.816,.955,.888,.731,.973,.851,.921,.785,.998,.820,.957,.866,.987,.811,
.896,.787,.984,.838,.947,.752,.996,.866,.813,.965,.911,.763,.992,.856,.828,.959,.898,.747,.975,.862,.929,.799,.998,.832,.961,.876,.988,.823,
.907,.801,.985,.849,.954,.768,.997,.877,.825,.968,.920,.778,.993,.867,.840,.963,.908,.763,.976,.873,.937,.813,.998,.844,.965,.886,.989,.835,
.918,.815,.986,.860,.961,.784,.997,.888,.837,.971,.929,.794,.993,.878,.852,.966,.918,.779,.977,.884,.945,.827,.998,.856,.969,.896,.989,.847,
.929,.829,.987,.871,.968,.800,.996,.899,.849,.974,.938,.809,.993,.889,.864,.970,.928,.794,.978,.895,.953,.841,.998,.868,.972,.906,.990,.859
];

// Axis ticks
const tickValues = [0, 0.2, 0.4, 0.6, 0.8, 1];
const tickLabels = ['0', '0.2', '0.4', '0.6', '0.8', '1'];

// Copula boundary annotations (values in axis units)
const greenX = 0.43;               // C(x,1) = x box width
const redX = 0.71, redY = 0.379;   // C(x,y) corner
const blueX = 0.855, blueY = 0.03; // C(x,0) = 0 box

// ---- Styles ----
const FONT = 'Liberation Sans, Arial, sans-serif';
const GREEN = '#008000', BROWN = '#996633', RED = '#FF0000', BLUE_BOX = '#3333CC', BLUE_TXT = '#0000FF';
const GRID = '#888888';

const trace = {
  type: 'scatter', mode: 'markers',
  x: useFraction, y: testFraction,
  marker: {color: '#002060', size: 5, symbol: 'circle'},
  hoverinfo: 'skip'
};

function ref(o) { return Object.assign({xref: 'paper', yref: 'paper'}, o); }

const shapes = [
  ref({type: 'path', path: 'M0,0 L0.295,' + redY + ' L0.479,' + redY + ' Z',
       fillcolor: 'rgba(255,100,100,0.28)', line: {width: 0}}),
  ref({type: 'rect', x0: 0, y0: 0, x1: 1, y1: 1, line: {color: BROWN, width: 7}}),
  ref({type: 'rect', x0: 0, y0: 0.004, x1: blueX, y1: blueY, line: {color: BLUE_BOX, width: 5}}),
  ref({type: 'path', path: 'M0,' + redY + ' L' + redX + ',' + redY + ' L' + redX + ',0', line: {color: RED, width: 5}}),
  ref({type: 'rect', x0: 0, y0: 0, x1: greenX, y1: 1, line: {color: GREEN, width: 7}}),
  // green arrow
  ref({type: 'path', path: 'M0.3964,1.0621 L0.4260,1.0161', line: {color: GREEN, width: 5}}),
  ref({type: 'path', path: 'M0.4077,1.0241 L0.4282,1.0115 L0.4282,1.0368', line: {color: GREEN, width: 5}}),
  // brown arrow
  ref({type: 'path', path: 'M1.0023,1.0667 L1.0034,1.0069', line: {color: BROWN, width: 5}}),
  ref({type: 'path', path: 'M0.9909,1.0264 L1.0034,1.0046 L1.0159,1.0264', line: {color: BROWN, width: 5}}),
  // blue arrow
  ref({type: 'path', path: 'M0.8554,0.0874 L0.8565,0.0414', line: {color: BLUE_TXT, width: 4}}),
  ref({type: 'path', path: 'M0.8451,0.0609 L0.8565,0.0391 L0.8690,0.0609', line: {color: BLUE_TXT, width: 4}}),
  // red curved arrows
  ref({type: 'path', path: 'M0.4966,0.2678 L0.4943,0.2943 C0.4932,0.3207 0.5011,0.3287 0.5296,0.3299 L0.5979,0.3322 C0.6435,0.3345 0.6720,0.3483 0.6982,0.3678',
       line: {color: RED, width: 5}}),
  ref({type: 'path', path: 'M0.6754,0.3667 L0.7016,0.3701 L0.6913,0.3460', line: {color: RED, width: 5}}),
  ref({type: 'path', path: 'M0.6549,0.2023 C0.6572,0.1506 0.6378,0.1253 0.5752,0.1184 C0.5068,0.1126 0.4385,0.1276 0.3929,0.1563 C0.3588,0.1759 0.3303,0.1989 0.3109,0.2195',
       line: {color: RED, width: 5}}),
  ref({type: 'path', path: 'M0.3360,0.2184 L0.3098,0.2207 L0.3189,0.1954', line: {color: RED, width: 5}})
];

function note(text, x, y, color, size, extra) {
  return Object.assign({xref: 'paper', yref: 'paper', x: x, y: y, text: text, showarrow: false,
    xanchor: 'center', yanchor: 'middle', font: {family: FONT, size: size, color: color}}, extra || {});
}

const annotations = [
  note('<b>What is a Copula?</b>', 0.040, 1.1155, '#000000', 92, {xanchor: 'right'}),
  note('<i>C</i>(x,1) = x', 0.4009, 1.1046, GREEN, 46),
  note('<i>C</i>(1,1) = 1', 0.9989, 1.1046, BROWN, 46),
  note('<i>C</i>(x,y) =', 0.541, 0.2, RED, 46),
  note('<i>C</i>(x,0) = 0', 0.8565, 0.1276, BLUE_TXT, 46),
  note('Cumulative Fraction in Use (<i>x</i>)', 0.4986, -0.1253, '#000000', 47),
  note('Cumulative Fraction in Test (<i>y</i>)', -0.1550, 0.553, '#000000', 47, {textangle: -90})
];

function axis(standoff) {
  return {
    range: [0, 1], autorange: false, fixedrange: true,
    tickmode: 'array', tickvals: tickValues, ticktext: tickLabels,
    ticks: 'outside', ticklen: 10, tickwidth: 1, tickcolor: GRID,
    ticklabelstandoff: standoff,
    tickfont: {family: FONT, size: 28, color: '#000000', weight: 'bold'},
    showgrid: true, gridcolor: GRID, gridwidth: 1,
    zeroline: false, showline: false,
    minor: {tickmode: 'linear', tick0: 0, dtick: 0.05, ticks: 'inside', ticklen: 8, tickcolor: GRID, tickwidth: 1, showgrid: false}
  };
}

const layout = {
  width: 1167, height: 1126,
  margin: {l: 175, r: 114, t: 121, b: 135, pad: 0},
  paper_bgcolor: '#ffffff', plot_bgcolor: '#ffffff',
  showlegend: false, hovermode: false,
  xaxis: axis(18),
  yaxis: axis(15),
  shapes: shapes,
  annotations: annotations
};

Plotly.newPlot('chart', [trace], layout, {displayModeBar: false, staticPlot: true});
</script>
</body>
</html>
